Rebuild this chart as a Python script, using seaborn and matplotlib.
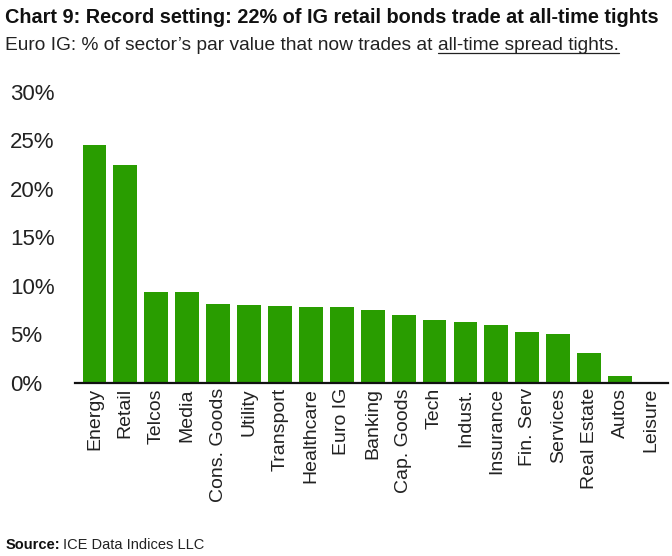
import numpy as np
import pandas as pd
import seaborn as sns
import matplotlib.pyplot as plt
from matplotlib.ticker import FuncFormatter

sectors = ["Energy", "Retail", "Telcos", "Media", "Cons. Goods", "Utility",
           "Transport", "Healthcare", "Euro IG", "Banking", "Cap. Goods", "Tech",
           "Indust.", "Insurance", "Fin. Serv", "Services", "Real Estate",
           "Autos", "Leisure"]
share_pct = [24.5, 22.5, 9.4, 9.3, 8.1, 8.0, 7.95, 7.85, 7.8, 7.45, 6.95,
             6.5, 6.25, 5.9, 5.25, 5.0, 3.0, 0.7, 0.05]

GREEN = "#299d00"

sns.set_style("white")
plt.rcParams["font.family"] = ["Liberation Sans", "DejaVu Sans"]

df = pd.DataFrame({"sector": sectors, "share": share_pct})

fig = plt.figure(figsize=(6.72, 5.56), dpi=100)
ax = fig.add_axes([0.112, 0.312, 0.882, 0.5225])
sns.barplot(data=df, x="sector", y="share", color=GREEN, width=0.77,
            saturation=1, edgecolor="none", ax=ax)

ax.set_ylim(0, 30)
ax.set_xlim(-0.62, len(sectors) - 0.45)
ax.set_yticks(np.arange(0, 31, 5))
ax.yaxis.set_major_formatter(FuncFormatter(lambda v, _: f"{v:.0f}%"))
ax.set_xlabel("")
ax.set_ylabel("")
# left-aligned % labels starting near the figure edge
ax.tick_params(axis="y", labelsize=16, length=0, pad=47, colors="#222222")
ax.tick_params(axis="x", labelsize=14, length=0, pad=4, rotation=90, colors="#222222")
for lab in ax.get_yticklabels():
    lab.set_horizontalalignment("left")
for side in ["top", "right", "left"]:
    ax.spines[side].set_visible(False)
ax.spines["bottom"].set_color("#111111")
ax.spines["bottom"].set_linewidth(1.6)

fig.text(0.008, 0.968, "Chart 9: Record setting: 22% of IG retail bonds trade at all-time tights",
         fontsize=14.3, fontweight="bold", color="#111111", va="center")
t1 = fig.text(0.008, 0.918, "Euro IG: % of sector\u2019s par value that now trades at ",
              fontsize=13.8, color="#222222", va="center")
fig.canvas.draw()
r = fig.canvas.get_renderer()
bb = t1.get_window_extent(renderer=r)
x2 = bb.x1 / fig.bbox.width
t2 = fig.text(x2, 0.918, "all-time spread tights.", fontsize=13.8, color="#222222", va="center")
fig.canvas.draw()
bb2 = t2.get_window_extent(renderer=r)
yline = (bb2.y0 + 1) / fig.bbox.height
fig.add_artist(plt.Line2D([bb2.x0 / fig.bbox.width, bb2.x1 / fig.bbox.width], [yline, yline],
                          transform=fig.transFigure, color="#222222", lw=0.9))

s1 = fig.text(0.008, 0.02, "Source:", fontsize=10.5, fontweight="bold", color="#111111", va="center")
fig.canvas.draw()
bs = s1.get_window_extent(renderer=r)
fig.text(bs.x1 / fig.bbox.width + 0.005, 0.02, "ICE Data Indices LLC", fontsize=10.5,
         color="#222222", va="center")

fig.savefig("out.png", dpi=100)
